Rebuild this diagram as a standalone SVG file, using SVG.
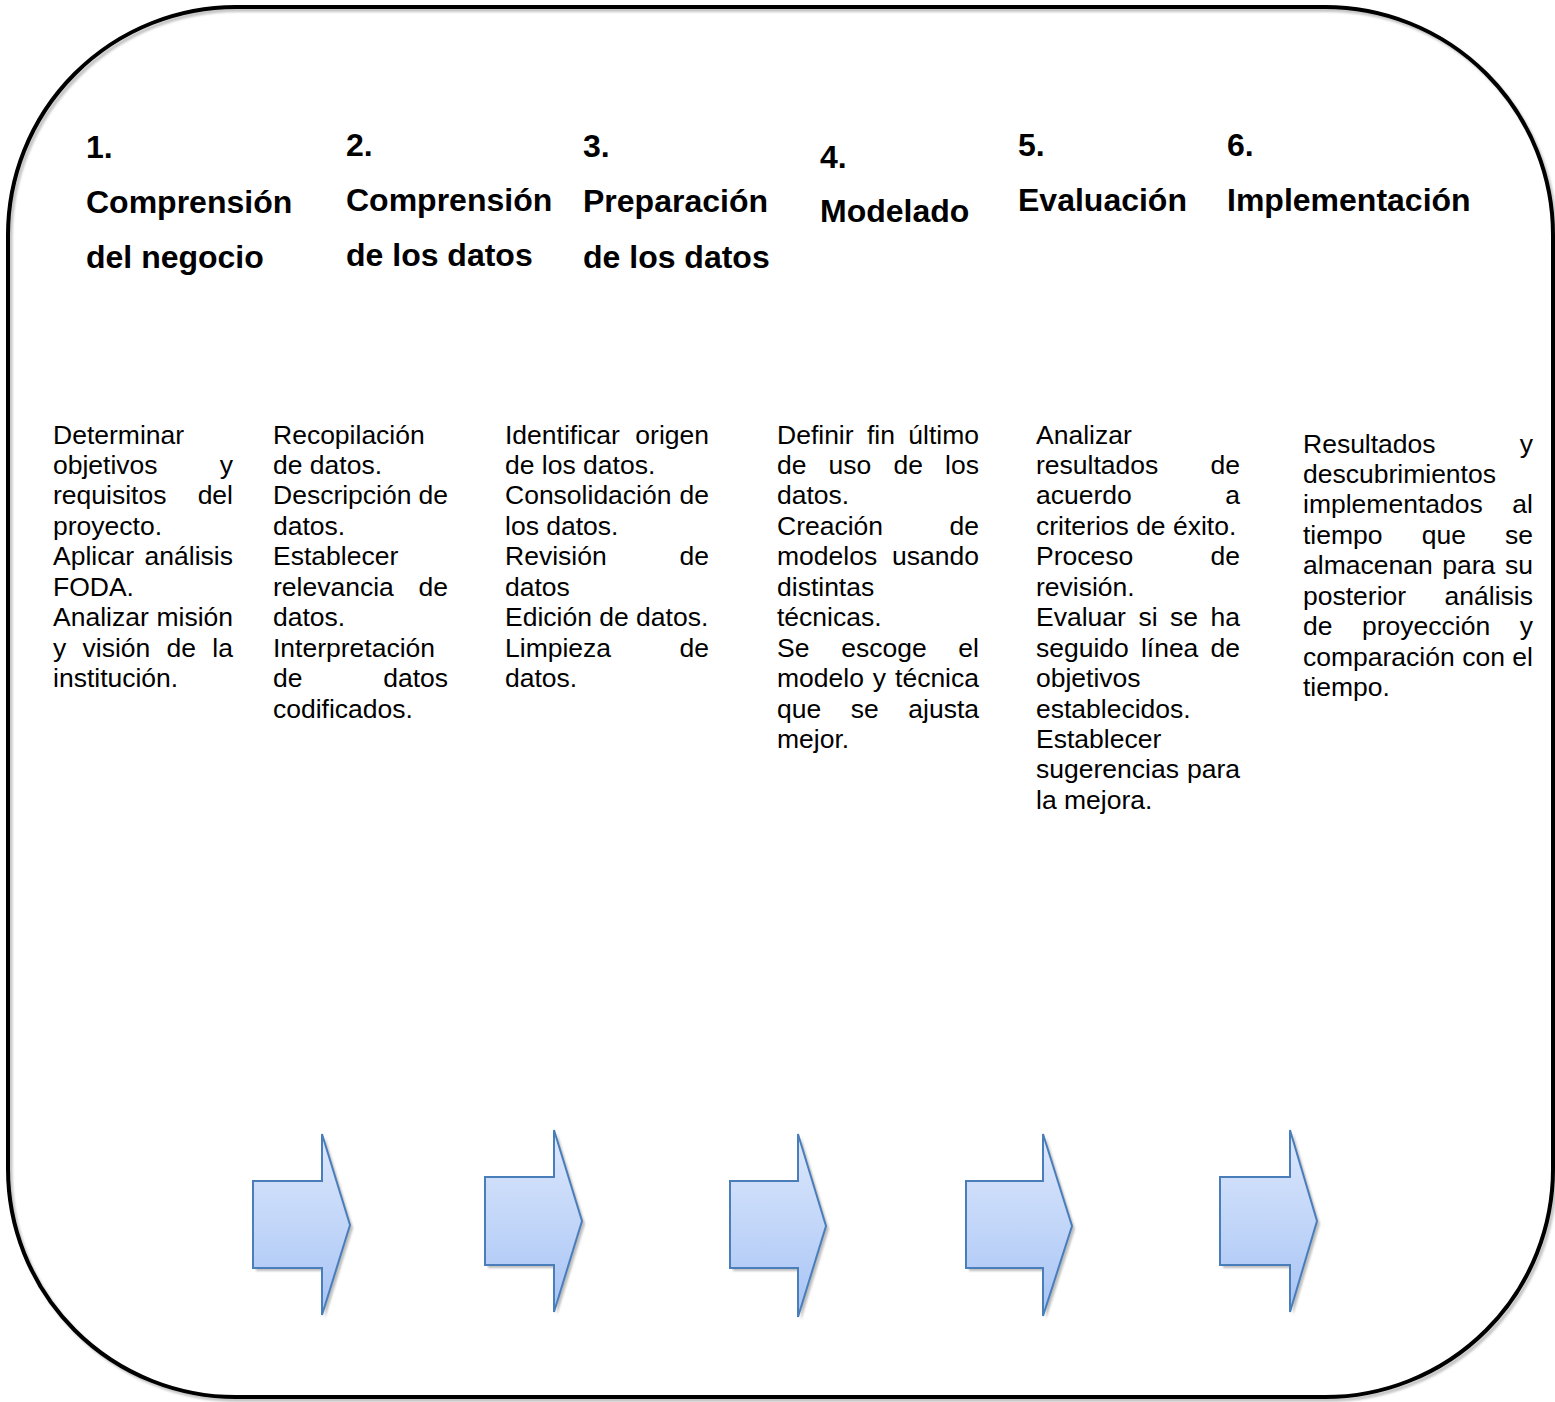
<svg xmlns="http://www.w3.org/2000/svg" width="1555" height="1402" viewBox="0 0 1555 1402">
  <defs>
    <linearGradient id="arrowFill" x1="0" y1="0" x2="0" y2="1">
      <stop offset="0" stop-color="#dde8fc"/>
      <stop offset="1" stop-color="#a7c4f5"/>
    </linearGradient>
    <filter id="soft" x="-5%" y="-5%" width="110%" height="110%">
      <feGaussianBlur stdDeviation="1"/>
    </filter>
  </defs>
  <style>
    .frame { fill: none; stroke: #000; stroke-width: 4; }
    .frame-shadow { fill: none; stroke: #c4c4c4; stroke-width: 4; }
    .h { font-family: "Liberation Sans", Arial, sans-serif; font-weight: bold; font-size: 32px; fill: #000; }
    .b { font-family: "Liberation Sans", Arial, sans-serif; font-size: 26.5px; fill: #000; }
    .e { text-anchor: end; }
    .arrow { fill: url(#arrowFill); stroke: #4a7ebb; stroke-width: 2; stroke-linejoin: miter; }
    .arrow-shadow { fill: #bdbdbd; }
  </style>

  <rect width="1555" height="1402" fill="#fff"/>

  <!-- outer rounded frame with its soft drop shadow -->
  <g id="frame">
    <rect class="frame-shadow" x="10.5" y="10" width="1545" height="1390" rx="228" ry="228" filter="url(#soft)"/>
    <rect class="frame" x="8" y="7" width="1545" height="1390" rx="228" ry="228"/>
  </g>

  <!-- phase 1 -->
  <g id="phase1">
    <text class="h" x="86" y="158">1.</text>
    <text class="h" x="86" y="213">Comprensión</text>
    <text class="h" x="86" y="268">del negocio</text>
    <text class="b" x="53" y="443.5">Determinar</text>
    <text class="b" x="53" y="473.95">objetivos</text><text class="b e" x="233" y="473.95">y</text>
    <text class="b" x="53" y="504.4">requisitos</text><text class="b e" x="233" y="504.4">del</text>
    <text class="b" x="53" y="534.85">proyecto.</text>
    <text class="b" x="53" y="565.3">Aplicar</text><text class="b e" x="233" y="565.3">análisis</text>
    <text class="b" x="53" y="595.75">FODA.</text>
    <text class="b" x="53" y="626.2">Analizar</text><text class="b e" x="233" y="626.2">misión</text>
    <text class="b" x="53" y="656.65">y<tspan x="82.6">visión</tspan><tspan x="166.6">de</tspan></text><text class="b e" x="233" y="656.65">la</text>
    <text class="b" x="53" y="687.1">institución.</text>
  </g>

  <!-- phase 2 -->
  <g id="phase2">
    <text class="h" x="346" y="156">2.</text>
    <text class="h" x="346" y="211">Comprensión</text>
    <text class="h" x="346" y="266">de los datos</text>
    <text class="b" x="273" y="443.5">Recopilación</text>
    <text class="b" x="273" y="473.95">de datos.</text>
    <text class="b" x="273" y="504.4">Descripción</text><text class="b e" x="448" y="504.4">de</text>
    <text class="b" x="273" y="534.85">datos.</text>
    <text class="b" x="273" y="565.3">Establecer</text>
    <text class="b" x="273" y="595.75">relevancia</text><text class="b e" x="448" y="595.75">de</text>
    <text class="b" x="273" y="626.2">datos.</text>
    <text class="b" x="273" y="656.65">Interpretación</text>
    <text class="b" x="273" y="687.1">de</text><text class="b e" x="448" y="687.1">datos</text>
    <text class="b" x="273" y="717.55">codificados.</text>
  </g>

  <!-- phase 3 -->
  <g id="phase3">
    <text class="h" x="583" y="157">3.</text>
    <text class="h" x="583" y="212">Preparación</text>
    <text class="h" x="583" y="268">de los datos</text>
    <text class="b" x="505" y="443.5">Identificar</text><text class="b e" x="709" y="443.5">origen</text>
    <text class="b" x="505" y="473.95">de los datos.</text>
    <text class="b" x="505" y="504.4">Consolidación</text><text class="b e" x="709" y="504.4">de</text>
    <text class="b" x="505" y="534.85">los datos.</text>
    <text class="b" x="505" y="565.3">Revisión</text><text class="b e" x="709" y="565.3">de</text>
    <text class="b" x="505" y="595.75">datos</text>
    <text class="b" x="505" y="626.2">Edición de datos.</text>
    <text class="b" x="505" y="656.65">Limpieza</text><text class="b e" x="709" y="656.65">de</text>
    <text class="b" x="505" y="687.1">datos.</text>
  </g>

  <!-- phase 4 -->
  <g id="phase4">
    <text class="h" x="820" y="168">4.</text>
    <text class="h" x="820" y="222">Modelado</text>
    <text class="b" x="777" y="443.5">Definir<tspan x="867">fin</tspan></text><text class="b e" x="979" y="443.5">último</text>
    <text class="b" x="777" y="473.95">de<tspan x="828.6">uso</tspan><tspan x="893.5">de</tspan></text><text class="b e" x="979" y="473.95">los</text>
    <text class="b" x="777" y="504.4">datos.</text>
    <text class="b" x="777" y="534.85">Creación</text><text class="b e" x="979" y="534.85">de</text>
    <text class="b" x="777" y="565.3">modelos</text><text class="b e" x="979" y="565.3">usando</text>
    <text class="b" x="777" y="595.75">distintas</text>
    <text class="b" x="777" y="626.2">técnicas.</text>
    <text class="b" x="777" y="656.65">Se<tspan x="841.2">escoge</tspan></text><text class="b e" x="979" y="656.65">el</text>
    <text class="b" x="777" y="687.1">modelo<tspan x="872.8">y</tspan></text><text class="b e" x="979" y="687.1">técnica</text>
    <text class="b" x="777" y="717.55">que<tspan x="850.8">se</tspan></text><text class="b e" x="979" y="717.55">ajusta</text>
    <text class="b" x="777" y="748">mejor.</text>
  </g>

  <!-- phase 5 -->
  <g id="phase5">
    <text class="h" x="1018" y="156">5.</text>
    <text class="h" x="1018" y="211">Evaluación</text>
    <text class="b" x="1036" y="443.5">Analizar</text>
    <text class="b" x="1036" y="473.95">resultados</text><text class="b e" x="1240" y="473.95">de</text>
    <text class="b" x="1036" y="504.4">acuerdo</text><text class="b e" x="1240" y="504.4">a</text>
    <text class="b" x="1036" y="534.85">criterios de éxito.</text>
    <text class="b" x="1036" y="565.3">Proceso</text><text class="b e" x="1240" y="565.3">de</text>
    <text class="b" x="1036" y="595.75">revisión.</text>
    <text class="b" x="1036" y="626.2">Evaluar<tspan x="1138.4">si</tspan><tspan x="1170.1">se</tspan></text><text class="b e" x="1240" y="626.2">ha</text>
    <text class="b" x="1036" y="656.65">seguido<tspan x="1140.9">línea</tspan></text><text class="b e" x="1240" y="656.65">de</text>
    <text class="b" x="1036" y="687.1">objetivos</text>
    <text class="b" x="1036" y="717.55">establecidos.</text>
    <text class="b" x="1036" y="748">Establecer</text>
    <text class="b" x="1036" y="778.45">sugerencias</text><text class="b e" x="1240" y="778.45">para</text>
    <text class="b" x="1036" y="808.9">la mejora.</text>
  </g>

  <!-- phase 6 -->
  <g id="phase6">
    <text class="h" x="1227" y="156">6.</text>
    <text class="h" x="1227" y="211">Implementación</text>
    <text class="b" x="1303" y="452.5">Resultados</text><text class="b e" x="1533" y="452.5">y</text>
    <text class="b" x="1303" y="482.95">descubrimientos</text>
    <text class="b" x="1303" y="513.4">implementados</text><text class="b e" x="1533" y="513.4">al</text>
    <text class="b" x="1303" y="543.85">tiempo<tspan x="1421.7">que</tspan></text><text class="b e" x="1533" y="543.85">se</text>
    <text class="b" x="1303" y="574.3">almacenan<tspan x="1442.3">para</tspan></text><text class="b e" x="1533" y="574.3">su</text>
    <text class="b" x="1303" y="604.75">posterior</text><text class="b e" x="1533" y="604.75">análisis</text>
    <text class="b" x="1303" y="635.2">de<tspan x="1362">proyección</tspan></text><text class="b e" x="1533" y="635.2">y</text>
    <text class="b" x="1303" y="665.65">comparación<tspan x="1462.2">con</tspan></text><text class="b e" x="1533" y="665.65">el</text>
    <text class="b" x="1303" y="696.1">tiempo.</text>
  </g>

  <!-- block arrows between the phases -->
  <g id="connectors">
    <g id="arrow1">
      <path class="arrow-shadow" filter="url(#soft)" d="M256 1184 H325 V1137 L353 1228 L325 1318 V1271 H256 Z"/>
      <path class="arrow" d="M253 1181 H322 V1134 L350 1225 L322 1315 V1268 H253 Z"/>
    </g>
    <g id="arrow2">
      <path class="arrow-shadow" filter="url(#soft)" d="M488 1180 H557 V1133 L585 1224 L557 1315 V1268 H488 Z"/>
      <path class="arrow" d="M485 1177 H554 V1130 L582 1221 L554 1312 V1265 H485 Z"/>
    </g>
    <g id="arrow3">
      <path class="arrow-shadow" filter="url(#soft)" d="M733 1184 H801 V1137 L829 1229 L801 1320 V1271 H733 Z"/>
      <path class="arrow" d="M730 1181 H798 V1134 L826 1226 L798 1317 V1268 H730 Z"/>
    </g>
    <g id="arrow4">
      <path class="arrow-shadow" filter="url(#soft)" d="M969 1184 H1046 V1137 L1075 1229 L1046 1319 V1271 H969 Z"/>
      <path class="arrow" d="M966 1181 H1043 V1134 L1072 1226 L1043 1316 V1268 H966 Z"/>
    </g>
    <g id="arrow5">
      <path class="arrow-shadow" filter="url(#soft)" d="M1223 1180 H1293 V1133 L1320 1224 L1293 1315 V1268 H1223 Z"/>
      <path class="arrow" d="M1220 1177 H1290 V1130 L1317 1221 L1290 1312 V1265 H1220 Z"/>
    </g>
  </g>
</svg>
